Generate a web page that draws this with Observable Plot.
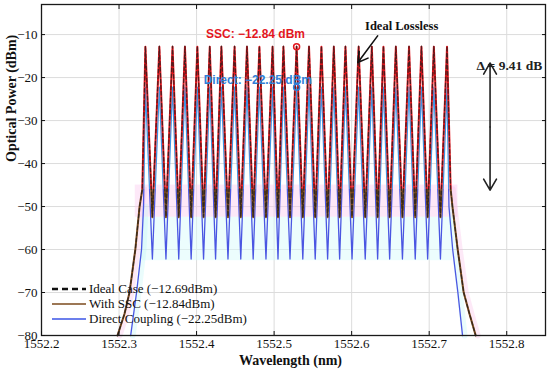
<!DOCTYPE html>
<html><head><meta charset="utf-8">
<script src="https://cdn.jsdelivr.net/npm/d3@7"></script>
<script src="https://cdn.jsdelivr.net/npm/@observablehq/plot@0.6"></script>
<style>
body{margin:0;background:#fff;}
#wrap{position:relative;width:550px;height:374px;}
#legend{position:absolute;left:52px;top:281px;font-family:"Liberation Serif","Times New Roman",serif;font-size:13px;color:#111;}
#legend .row{display:flex;align-items:center;height:15px;}
#legend svg{margin-right:3px;}
</style></head><body><div id="wrap"></div>
<script>
// ---- data ----
const xTicks = [1552.2, 1552.3, 1552.4, 1552.5, 1552.6, 1552.7, 1552.8];
const yTicks = [-80, -70, -60, -50, -40, -30, -20, -10];
const peakWl = [1552.334, 1552.352, 1552.369, 1552.385, 1552.401, 1552.417, 1552.432, 1552.449, 1552.465, 1552.481, 1552.498, 1552.512, 1552.529, 1552.545, 1552.561, 1552.577, 1552.592, 1552.609, 1552.626, 1552.641, 1552.657, 1552.674, 1552.690, 1552.706, 1552.723];
const dipWl = [1552.343, 1552.3605, 1552.377, 1552.393, 1552.409, 1552.4245, 1552.4405, 1552.457, 1552.473, 1552.4895, 1552.505, 1552.5205, 1552.537, 1552.553, 1552.569, 1552.5845, 1552.6005, 1552.6175, 1552.6335, 1552.649, 1552.6655, 1552.682, 1552.698, 1552.7145];
const idealPeak = -12.69, idealDip = -52.3;
const sscPeak = -12.84, sscDip = -52.5;
const directPeak = -22.25, directDip = -62.2;
const sscLeftEdge = [[1552.298, -80], [1552.307, -75], [1552.3135, -70], [1552.321, -60], [1552.3265, -50], [1552.330, -46]];
const sscRightEdge = [[1552.7277, -46], [1552.730, -50], [1552.7368, -60], [1552.7445, -70], [1552.752, -75], [1552.760, -80]];
const directLeftEdge = [[1552.315, -80], [1552.3226, -70], [1552.329, -60], [1552.3316, -50]];
const directRightEdge = [[1552.7255, -50], [1552.7303, -60], [1552.737, -70], [1552.743, -80]];
const sscBand = [{x1: 1552.321, x2: 1552.737, y1: -52.5, y2: -45}];
const directBand = [{x1: 1552.329, x2: 1552.730, y1: -62.6, y2: -52.5}];
const legendLabels = ["Ideal Case (\u221212.69dBm)", "With SSC (\u221212.84dBm)", "Direct Coupling (\u221222.25dBm)"];
const markerWl = [1552.529];
const markerSSC = [-12.84];
const markerDirect = [-22.25];

// ---- build traces ----
function buildSeries(leftEdge, rightEdge, peak, dip) {
  const pts = leftEdge.map(([x, y]) => ({x, y}));
  peakWl.forEach((w, i) => {
    pts.push({x: w, y: peak});
    if (i < dipWl.length) pts.push({x: dipWl[i], y: dip});
  });
  rightEdge.forEach(([x, y]) => pts.push({x, y}));
  return pts;
}
const ideal = buildSeries(sscLeftEdge, sscRightEdge, idealPeak, idealDip);
const ssc = buildSeries(sscLeftEdge, sscRightEdge, sscPeak, sscDip);
const direct = buildSeries(directLeftEdge, directRightEdge, directPeak, directDip);

const gradients = (index, scales) => {
  const ns = "http://www.w3.org/2000/svg";
  const defs = document.createElementNS(ns, "defs");
  const c = scales.y(-46) / 374;
  defs.innerHTML =
    `<linearGradient id="sscGrad" gradientUnits="userSpaceOnUse" x1="0" y1="0" x2="0" y2="374">
       <stop offset="${c}" stop-color="#e8151c"/><stop offset="${c}" stop-color="#7b4a1c"/></linearGradient>
     <linearGradient id="dirGrad" gradientUnits="userSpaceOnUse" x1="0" y1="0" x2="0" y2="374">
       <stop offset="${c}" stop-color="#3f95e4"/><stop offset="${c}" stop-color="#4a56e2"/></linearGradient>`;
  return defs;
};

const edgeLine = (arr, color) => Plot.line(arr, {x: d => d[0], y: d => d[1], stroke: color, strokeWidth: 6, strokeOpacity: 0.3, dx: 2});

const chart = Plot.plot({
  width: 550, height: 374,
  marginLeft: 41, marginRight: 5, marginTop: 4, marginBottom: 39,
  style: {fontFamily: '"Liberation Serif", "Times New Roman", serif', fontSize: "13px", background: "#fff", color: "#111"},
  x: {domain: [1552.2, 1552.85]},
  y: {domain: [-80, -3]},
  marks: [
    gradients,
    Plot.gridX(xTicks, {stroke: "#dcdcdc", strokeOpacity: 1}),
    Plot.gridY(yTicks, {stroke: "#dcdcdc", strokeOpacity: 1}),
    Plot.rect(sscBand, {x1: "x1", x2: "x2", y1: "y1", y2: "y2", fill: "#fbcdef", fillOpacity: 0.45}),
    Plot.rect(directBand, {x1: "x1", x2: "x2", y1: "y1", y2: "y2", fill: "#dafcfc", fillOpacity: 0.5}),
    edgeLine(sscLeftEdge, "#f7b6e4"), edgeLine(sscRightEdge, "#f7b6e4"),
    edgeLine(directLeftEdge, "#b9f4f4"), edgeLine(directRightEdge, "#b9f4f4"),
    Plot.line(direct, {x: "x", y: "y", stroke: "url(#dirGrad)", strokeWidth: 1.3}),
    Plot.line(ssc, {x: "x", y: "y", stroke: "url(#sscGrad)", strokeWidth: 2}),
    Plot.line(ideal, {x: "x", y: "y", stroke: "#1c1c1c", strokeWidth: 1.3, strokeOpacity: 0.75, strokeDasharray: "3.5,2.5"}),
    Plot.dot(markerWl, {x: d => d, y: () => markerSSC[0], r: 3, stroke: "#e3161d", strokeWidth: 1.5, fill: "none"}),
    Plot.dot(markerWl, {x: d => d, y: () => markerDirect[0], r: 3, stroke: "#2f7fd8", strokeWidth: 1.5, fill: "none"}),
    Plot.text(["SSC: \u221212.84 dBm"], {x: () => 1552.476, y: () => -10, text: d => d, fill: "#e3161d", fontWeight: "bold", fontSize: 12, fontFamily: '"Liberation Sans", Arial, sans-serif'}),
    Plot.text(["Direct: \u221222.25 dBm"], {x: () => 1552.479, y: () => -20.6, text: d => d, fill: "#2f7fd8", fontWeight: "bold", fontSize: 12, fontFamily: '"Liberation Sans", Arial, sans-serif'}),
    Plot.text(["Ideal Lossless"], {x: () => 1552.6645, y: () => -8.1, text: d => d, fontWeight: "bold", fontSize: 12.5, fill: "#111"}),
    Plot.arrow([0], {x1: () => 1552.6335, y1: () => -10.3, x2: () => 1552.608, y2: () => -16.5, stroke: "#111", strokeWidth: 1.6, headLength: 11}),
    Plot.text(["\u0394 = 9.41 dB"], {x: () => 1552.761, y: () => -17.3, text: d => d, textAnchor: "start", fontWeight: "bold", fontSize: 13.5, fill: "#222"}),
    Plot.arrow([0], {x1: () => 1552.7785, y1: () => -31.5, x2: () => 1552.7785, y2: () => -16.6, stroke: "#222", strokeWidth: 1.6, headLength: 12}),
    Plot.arrow([0], {x1: () => 1552.7785, y1: () => -31.5, x2: () => 1552.7785, y2: () => -46.2, stroke: "#222", strokeWidth: 1.6, headLength: 12}),
    Plot.frame({stroke: "#1a1a1a", strokeWidth: 1.3}),
    Plot.axisX({ticks: xTicks, tickSize: -4, tickPadding: 7, tickFormat: d => d.toFixed(1), label: null, fontSize: 13}),
    Plot.axisX({anchor: "top", ticks: xTicks, tickSize: -4, tickFormat: () => "", label: null}),
    Plot.axisY({ticks: yTicks, tickSize: -4, tickPadding: 8, tickFormat: d => "\u2212" + Math.abs(d), label: null, fontSize: 13}),
    Plot.axisY({anchor: "right", ticks: yTicks, tickSize: -4, tickFormat: () => "", label: null}),
    Plot.text(["Wavelength (nm)"], {frameAnchor: "bottom", text: d => d, dy: 29, dx: -3, fontWeight: "bold", fontSize: 14, fill: "#111"}),
    Plot.text(["Optical Power (dBm)"], {frameAnchor: "left", text: d => d, rotate: -90, dx: -30, dy: -8, fontWeight: "bold", fontSize: 14, fill: "#111"})
  ]
});
const wrap = document.getElementById("wrap");
wrap.appendChild(chart);

// legend (inside plot area, lower-left)
const legStyles = [
  {stroke: "#111", width: 2.4, dash: "6,4"},
  {stroke: "#7b4a1c", width: 1.5, dash: null},
  {stroke: "#3b55e6", width: 1.3, dash: null}
];
const leg = document.createElement("div");
leg.id = "legend";
legendLabels.forEach((lab, i) => {
  const s = legStyles[i];
  const row = document.createElement("div");
  row.className = "row";
  row.innerHTML = `<svg width="34" height="10"><line x1="0" y1="5" x2="34" y2="5" stroke="${s.stroke}" stroke-width="${s.width}" ${s.dash ? `stroke-dasharray="${s.dash}"` : ""}/></svg><span>${lab}</span>`;
  leg.appendChild(row);
});
wrap.appendChild(leg);
</script></body></html>
